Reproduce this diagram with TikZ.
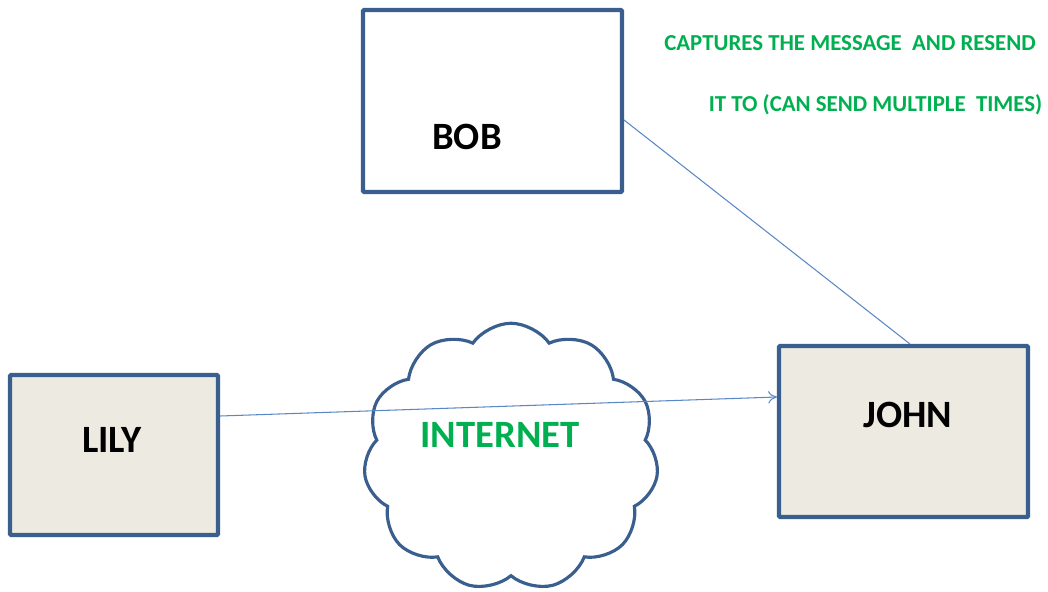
\documentclass[tikz,border=0pt]{standalone}
\usepackage{fontspec}
\setmainfont{Carlito}
\usepackage{tikz}
\usetikzlibrary{arrows.meta,shapes.symbols,positioning}

\definecolor{edgeblue}{HTML}{3A5F8E}
\definecolor{lineblue}{HTML}{5B87C5}
\definecolor{paper}{HTML}{EDEBE1}
\definecolor{msggreen}{HTML}{00B050}

\tikzset{
  party/.style={draw=edgeblue, line width=2.3pt, rounded corners=0.5pt, inner sep=0pt},
  who/.style={font=\fontsize{22}{26}\selectfont\bfseries, text=black},
  note/.style={font=\fontsize{13}{15}\selectfont\bfseries, text=msggreen, inner sep=0pt},
  wire/.style={draw=lineblue, line width=0.6pt}
}

\begin{document}
\begin{tikzpicture}
  \useasboundingbox (0,0) rectangle (20.96,11.82);

  % the three parties
  \node[party, fill=white, minimum width=5.18cm, minimum height=3.64cm] (bob) at (9.85,9.8) {};
  \node[party, fill=paper, minimum width=4.16cm, minimum height=3.2cm] (lily) at (2.28,2.72) {};
  \node[party, fill=paper, minimum width=4.98cm, minimum height=3.42cm] (john) at (18.07,3.19) {};
  \node[who] (bobname) at ([shift={(-0.51,-0.72)}]bob.center) {BOB};
  \node[who] (lilyname) at ([shift={(-0.04,0.3)}]lily.center) {LILY};
  \node[who] (johnname) at ([shift={(0.09,0.33)}]john.center) {JOHN};

  % the network in between
  \node[cloud, cloud puffs=11, cloud puff arc=110, aspect=1.1, draw=edgeblue, line width=1.8pt,
        fill=white, minimum width=5.9cm, minimum height=5.35cm] (net) at (10.22,2.68) {};
  \node[font=\fontsize{22}{26}\selectfont\bfseries, text=msggreen] (nettext) at (10.0,3.12) {INTERNET};

  % message and replay
  \draw[wire, -{To[length=5pt,width=7pt]}] ([yshift=0.78cm]lily.east) -- ([yshift=0.69cm]john.west);
  \draw[wire] ([yshift=-0.38cm]bob.east) -- ([xshift=0.13cm]john.north);

  \node[note] (note1) at (17.0,10.96) {CAPTURES THE MESSAGE\ \ AND RESEND};
  \node[note] (note2) at (17.51,9.72) {IT TO (CAN SEND MULTIPLE\ \ TIMES)};
\end{tikzpicture}
\end{document}
